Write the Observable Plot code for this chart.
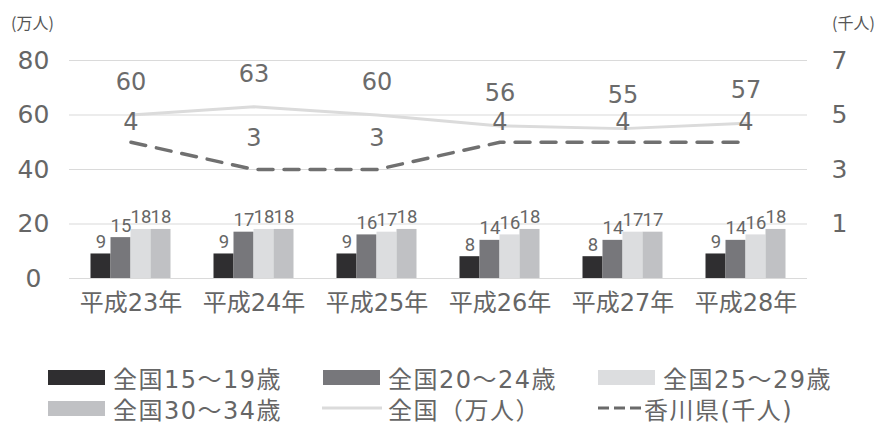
<!DOCTYPE html>
<html><head><meta charset="utf-8">
<script src="https://cdn.jsdelivr.net/npm/d3@7"></script>
<script src="https://cdn.jsdelivr.net/npm/@observablehq/plot@0.6"></script>
<style>
body{margin:0;background:#fff;font-family:"DejaVu Sans","Noto Sans CJK JP",sans-serif;color:#666;}
#wrap{position:relative;width:883px;height:430px;}
.unit{position:absolute;top:10px;font-size:16px;color:#555;font-family:"Noto Sans CJK JP",sans-serif;}
#legend{position:absolute;left:0;top:340px;width:883px;height:90px;}
.item{position:absolute;display:flex;align-items:center;font-size:24px;color:#666;height:30px;letter-spacing:1.5px;}
.sw{width:57px;height:15px;margin-right:8px;}
</style></head>
<body>
<div id="wrap">
<div class="unit" style="left:11px">(万人)</div>
<div class="unit" style="left:832px">(千人)</div>
<div id="chart"></div>
<div id="legend"></div>
</div>
<script>
const years = ["平成23年","平成24年","平成25年","平成26年","平成27年","平成28年"];
const seriesNames = ["全国15～19歳","全国20～24歳","全国25～29歳","全国30～34歳"];
const age15_19 = [9,9,9,8,8,9];
const age20_24 = [15,17,16,14,14,14];
const age25_29 = [18,18,17,16,17,16];
const age30_34 = [18,18,18,18,17,18];
const national = [60,63,60,56,55,57];      // 万人, left axis
const kagawa = [4,3,3,4,4,4];              // 千人, right axis
const leftTicks = [0,20,40,60,80];
const rightTicks = [1,3,5,7];
const colors = ["#2f2e30","#77777b","#dcdddf","#c0c1c4"];

// right axis mapping: left = 10*right + 10
const toLeft = v => 10*v + 10;
const fromLeft = v => (v - 10)/10;

const barSeries = [age15_19, age20_24, age25_29, age30_34];
const barW = 20;
const band = (883 - 69 - 76) / years.length;
const inset = (band - barW) / 2;
const numFont = "'DejaVu Sans',sans-serif";
const mixFont = "'DejaVu Sans','Noto Sans CJK JP',sans-serif";

const marks = [
  Plot.gridY(leftTicks, {stroke:"#dadada", strokeOpacity:1, strokeWidth:1.2}),
];
barSeries.forEach((vals, k) => {
  const data = years.map((y, i) => ({year:y, value:vals[i]}));
  marks.push(Plot.barY(data, {x:"year", y:"value", fill:colors[k], dx:(k-1.5)*barW, insetLeft:inset, insetRight:inset}));
});
barSeries.forEach((vals, k) => {
  const data = years.map((y, i) => ({year:y, value:vals[i]}));
  marks.push(Plot.text(data, {x:"year", y:"value", text:"value", dx:(k-1.5)*barW, dy:-6, lineAnchor:"bottom", fontSize:18.5, fill:"#666", fontFamily:"Roboto,sans-serif"}));
});
const natData = years.map((y,i)=>({year:y, value:national[i]}));
const kagData = years.map((y,i)=>({year:y, value:kagawa[i], yl:toLeft(kagawa[i])}));
marks.push(Plot.lineY(natData, {x:"year", y:"value", stroke:"#dbdbdb", strokeWidth:3}));
marks.push(Plot.lineY(kagData, {x:"year", y:"yl", stroke:"#707070", strokeWidth:3.5, strokeDasharray:"15,11"}));
marks.push(Plot.text(natData, {x:"year", y:"value", text:"value", dy:-33, fontSize:24, fill:"#6b6b6b", fontFamily:numFont}));
marks.push(Plot.text(kagData.filter(d=>d.value>=4), {x:"year", y:"yl", text:"value", dy:-20, fontSize:24, fill:"#6b6b6b", fontFamily:numFont}));
marks.push(Plot.text(kagData.filter(d=>d.value<4), {x:"year", y:"yl", text:"value", dy:-31, fontSize:24, fill:"#6b6b6b", fontFamily:numFont}));
marks.push(Plot.axisY(leftTicks, {anchor:"left", tickSize:0, tickPadding:36, textAnchor:"middle", fontSize:25, fill:"#666", label:null, fontFamily:numFont}));
marks.push(Plot.axisY(rightTicks.map(toLeft), {anchor:"right", tickSize:0, tickPadding:32, textAnchor:"middle", fontSize:25, fill:"#666", tickFormat:fromLeft, label:null, fontFamily:numFont}));
marks.push(Plot.axisX({tickSize:0, tickPadding:15, fontSize:24, fill:"#666", label:null, fontFamily:mixFont}));

const chart = Plot.plot({
  width:883, height:340,
  marginLeft:69, marginRight:76, marginTop:60, marginBottom:62,
  style:{fontFamily:mixFont, color:"#666", background:"#fff"},
  x:{type:"band", domain:years, padding:0},
  y:{domain:[0,80]},
  marks
});
document.getElementById("chart").appendChild(chart);

// legend
const legendItems = [
  {label:seriesNames[0], type:"bar", color:colors[0], left:48, top:22},
  {label:seriesNames[1], type:"bar", color:colors[1], left:323, top:22},
  {label:seriesNames[2], type:"bar", color:colors[2], left:598, top:22},
  {label:seriesNames[3], type:"bar", color:colors[3], left:48, top:53},
  {label:"全国（万人）", type:"line", color:"#dbdbdb", left:322, top:53},
  {label:"香川県(千人)", type:"dash", color:"#6a6a6a", left:598, top:53},
];
const lg = document.getElementById("legend");
legendItems.forEach(it => {
  const d = document.createElement("div");
  d.className = "item";
  d.style.left = it.left + "px";
  d.style.top = it.top + "px";
  let sw;
  if (it.type === "bar") {
    sw = `<div class="sw" style="background:${it.color}"></div>`;
  } else if (it.type === "line") {
    sw = `<svg width="62" height="10" style="margin-right:4px"><line x1="0" x2="60" y1="5" y2="5" stroke="${it.color}" stroke-width="3"/></svg>`;
  } else {
    sw = `<svg width="46" height="10" style="margin-right:0px"><line x1="0" x2="46" y1="5" y2="5" stroke="${it.color}" stroke-width="3" stroke-dasharray="11,5"/></svg>`;
  }
  d.innerHTML = sw + `<span>${it.label}</span>`;
  lg.appendChild(d);
});
</script>
</body></html>
